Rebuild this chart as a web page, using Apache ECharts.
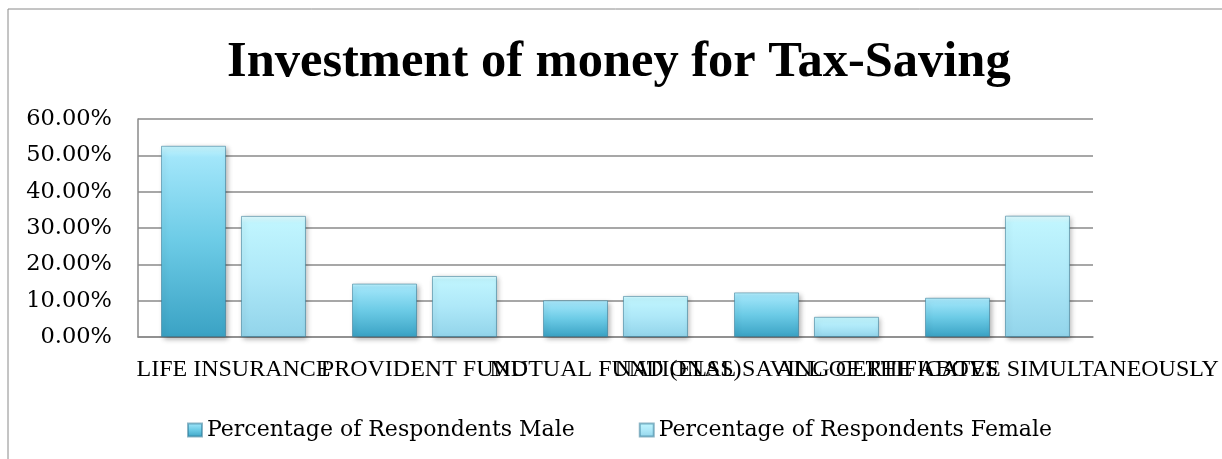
<!DOCTYPE html>
<html>
<head>
<meta charset="utf-8">
<script src="https://cdn.jsdelivr.net/npm/echarts@6/dist/echarts.min.js"></script>
<style>
  html, body { margin: 0; padding: 0; background: #fff; }
  #chart { width: 1222px; height: 459px; }
</style>
</head>
<body>
<div id="chart"></div>
<script>
// data
const categories = ['LIFE INSURANCE', 'PROVIDENT FUND', 'MUTUAL FUND (ELSS)', 'NATIONAL SAVING CERTIFICATES', 'ALL OF THE ABOVE SIMULTANEOUSLY']
const maleValues = [52.63, 14.7, 10.1, 12.28, 10.8]
const femaleValues = [33.33, 16.8, 11.3, 5.56, 33.4]
const yTicks = [0, 10, 20, 30, 40, 50, 60]

const chart = echarts.init(document.getElementById('chart'))

// bar fills, glassy look
const maleFill = new echarts.graphic.LinearGradient(0, 0, 0, 1, [
    { offset: 0, color: '#c8f6fe' },
    { offset: 0.06, color: '#a2e6fa' },
    { offset: 0.5, color: '#6ccbe6' },
    { offset: 1, color: '#3aa2c4' }
])
const femaleFill = new echarts.graphic.LinearGradient(0, 0, 0, 1, [
    { offset: 0, color: '#e2fcff' },
    { offset: 0.06, color: '#c0f5fe' },
    { offset: 0.5, color: '#aee8f8' },
    { offset: 1, color: '#92d4ea' }
])

const barStyle = (fill) => ({
    color: fill,
    borderColor: 'rgba(50,120,150,0.55)',
    borderWidth: 1,
    shadowBlur: 5,
    shadowColor: 'rgba(0,0,0,0.3)',
    shadowOffsetX: 2,
    shadowOffsetY: 2
})

const option = {
    backgroundColor: '#fff',
    animation: false,
    graphic: [{
        type: 'rect',
        shape: { x: 8, y: 9, width: 1240, height: 480 },
        style: { fill: 'none', stroke: '#8a8a8a', lineWidth: 1 },
        silent: true
    }],
    title: {
        text: 'Investment of money for Tax-Saving',
        left: 227,
        top: 37,
        padding: 0,
        textStyle: {
            fontFamily: 'Liberation Serif',
            fontWeight: 'bold',
            fontSize: 50.5,
            color: '#000'
        }
    },
    legend: {
        top: 419,
        left: 187,
        padding: 0,
        itemWidth: 14,
        itemHeight: 13,
        itemGap: 64,
        icon: 'rect',
        textStyle: {
            fontFamily: 'DejaVu Serif',
            fontSize: 22,
            color: '#000'
        },
        data: ['Percentage of Respondents Male', 'Percentage of Respondents Female']
    },
    grid: {
        left: 138,
        right: 129,
        top: 119,
        height: 218
    },
    xAxis: {
        type: 'category',
        data: categories,
        axisLine: { show: true, lineStyle: { color: '#8a8a8a', width: 1.5 } },
        axisTick: { show: false },
        axisLabel: {
            interval: 0,
            margin: 21,
            fontFamily: 'Liberation Serif',
            fontSize: 24,
            color: '#000'
        }
    },
    yAxis: {
        type: 'value',
        min: yTicks[0],
        max: yTicks[yTicks.length - 1],
        interval: 10,
        axisLine: { show: true, lineStyle: { color: '#8a8a8a', width: 1.5 } },
        axisTick: { show: false },
        splitLine: { lineStyle: { color: '#8a8a8a', width: 1.5 } },
        axisLabel: {
            margin: 26,
            fontFamily: 'DejaVu Serif',
            fontSize: 22.5,
            color: '#000',
            formatter: (v) => v.toFixed(2) + '%'
        }
    },
    series: [
        {
            name: 'Percentage of Respondents Male',
            type: 'bar',
            data: maleValues,
            barWidth: 65,
            barGap: '23%',
            itemStyle: barStyle(maleFill)
        },
        {
            name: 'Percentage of Respondents Female',
            type: 'bar',
            data: femaleValues,
            barWidth: 65,
            itemStyle: barStyle(femaleFill)
        }
    ]
}

chart.setOption(option)
</script>
</body>
</html>
